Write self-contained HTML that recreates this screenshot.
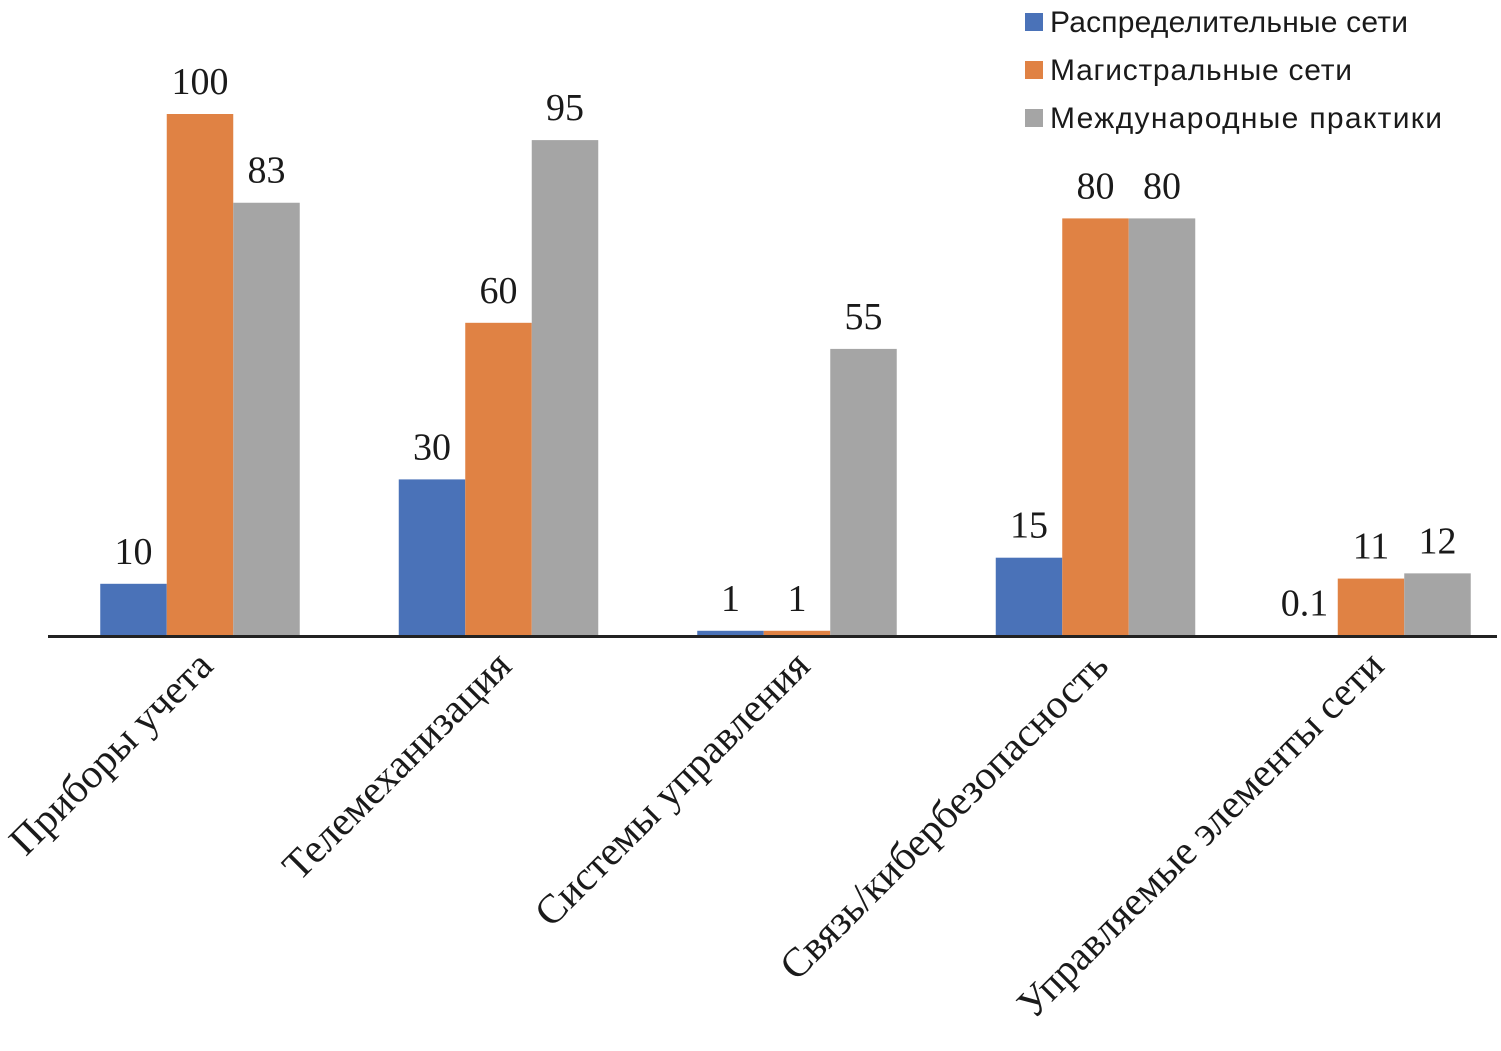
<!DOCTYPE html>
<html><head><meta charset="utf-8"><style>
html,body{margin:0;padding:0;background:#fff;}
svg{display:block;}
</style></head><body>
<svg id="chart" width="1501" height="1051" xmlns="http://www.w3.org/2000/svg">
<g id="bars"></g>
<g id="vals"></g>
<line x1="48" y1="636.5" x2="1497" y2="636.5" stroke="#222" stroke-width="3"/>
<g id="cats"></g>
<g id="legend"></g>
</svg>
<script>
const categories = ["Приборы учета","Телемеханизация","Системы управления","Связь/кибербезопасность","Управляемые элементы сети"];
const seriesNames = ["Распределительные сети","Магистральные сети","Международные практики"];
const distribution = [10, 30, 1, 15, 0.1];
const trunk = [100, 60, 1, 80, 11];
const international = [83, 95, 55, 80, 12];
const valueLabels = [["10","30","1","15","0.1"],["100","60","1","80","11"],["83","95","55","80","12"]];
const colors = ["#4a72b8","#e08244","#a5a5a5"];
const series = [distribution, trunk, international];
const NS = "http://www.w3.org/2000/svg";
const base = 636, pxPerUnit = 5.22, barW = 66.5;
function y(v){ return base - v*pxPerUnit; }
function groupCenter(i){ return 200 + i*298.5 - (i===4 ? 23 : 0); }
function mk(tag, attrs, parent){ const e=document.createElementNS(NS,tag); for(const k in attrs) e.setAttribute(k,attrs[k]); parent.appendChild(e); return e; }
const gb=document.getElementById('bars'), gv=document.getElementById('vals'), gc=document.getElementById('cats'), gl=document.getElementById('legend');
categories.forEach((c,i)=>{
  series.forEach((s,j)=>{
    const x = groupCenter(i) + (j-1.5)*barW;
    const r = mk('rect',{x:x,y:y(s[i]),width:barW,height:base-y(s[i]),fill:colors[j]},gb);
    
    
    const t = mk('text',{x:x+barW/2,y:y(s[i])-20,'text-anchor':'middle','font-family':'"Liberation Serif",serif','font-size':38,fill:'#1a1a1a'},gv);
    t.textContent = valueLabels[j][i];
    
    
  });
  const cx = groupCenter(i)+15, cy = 668;
  const t = mk('text',{x:cx,y:cy,'text-anchor':'end','font-family':'"Liberation Serif","Noto Serif CJK SC",serif','font-size':41,fill:'#1a1a1a',transform:'rotate(-45 '+cx+' '+cy+')'},gc);
  t.textContent = c;
  
  
});
seriesNames.forEach((n,j)=>{
  const yy = 22 + j*48;
  const r = mk('rect',{x:1025,y:yy-9,width:18,height:18,fill:colors[j]},gl);
  
  
  const t = mk('text',{x:1050,y:yy+10,'font-family':'"Liberation Sans",sans-serif','font-size':30,fill:'#1a1a1a',textLength:[358,302,392][j]},gl);
  t.textContent = n;
  
  
});
</script>
</body></html>
